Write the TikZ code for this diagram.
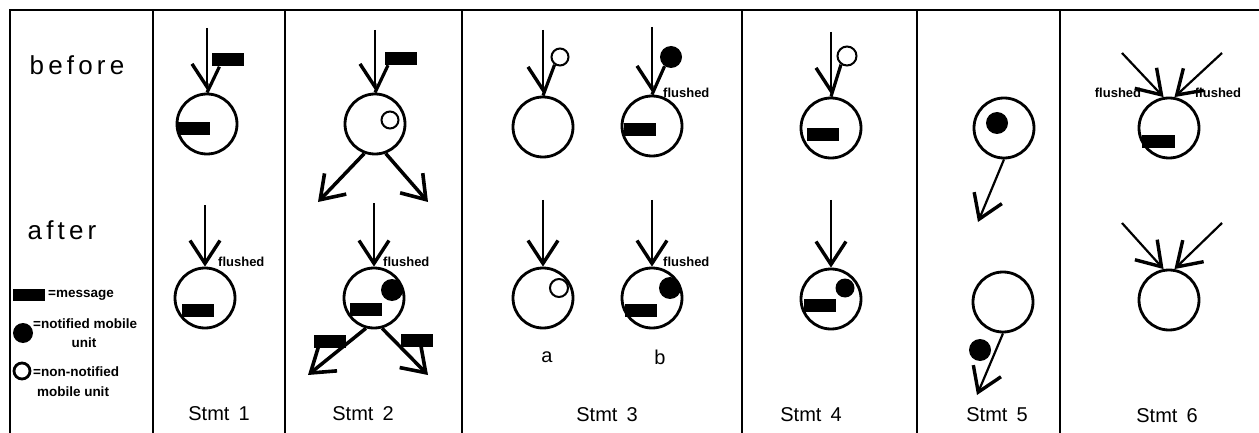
\documentclass[tikz,border=0pt]{standalone}
\usepackage{fontspec}
\setmainfont{Liberation Sans}
\usetikzlibrary{arrows.meta,calc}

\begin{document}
\begin{tikzpicture}[x=1pt,y=-1pt,
unit/.style={circle,draw,line width=2.8pt,minimum size=60pt,inner sep=0pt},
msg/.style={rectangle,fill=black,minimum width=32pt,minimum height=13pt,inner sep=0pt},
note/.style={circle,fill=black,minimum size=22pt,inner sep=0pt},
plain/.style={circle,draw,line width=2pt,minimum size=17pt,inner sep=0pt},
flow/.style={line width=2.2pt,-{Straight Barb[length=23pt,width=30pt,line width=3.4pt]}},
carry/.style={line width=2.2pt,-{Straight Barb[right,length=23pt,width=30pt,line width=3.4pt]}},
outflow/.style={line width=3.5pt,-{Straight Barb[length=22pt,width=30pt,line width=3.6pt]}},
barb/.style={line width=3.2pt},
frame/.style={line width=2.5pt},
tag/.style={font=\bfseries\fontsize{13}{13}\selectfont,inner sep=0pt},
key/.style={font=\bfseries\fontsize{13.5}{14}\selectfont,inner sep=0pt},
big/.style={font=\fontsize{26}{26}\selectfont\addfontfeature{LetterSpace=16}},
stmt/.style={font=\fontsize{20}{20}\selectfont}
]
\useasboundingbox (0,0) rectangle (1259,433);
\draw[frame] (10,433) -- (10,10) -- (1259,10);
\foreach \x in {153,285,462,742,917,1060}
  \draw[frame] (\x,10) -- (\x,433);

\node[big] (before) at (77,65) {before};
\node[big] (after) at (62,230) {after};
\node[msg,minimum height=12pt] (lm) at (29,295) {};
\node[key,anchor=west] (lmt) at (48,295) {=message};
\node[note,minimum size=20pt] (ln) at (23,333) {};
\node[key,anchor=west] (lnt) at (33,324) {=notified mobile};
\node[key] (lnu) at (84,343) {unit};
\node[plain,line width=2.8pt,minimum size=16pt] (lp) at (22,371) {};
\node[key,anchor=west] (lpt) at (33,372) {=non-notified};
\node[key] (lpu) at (73,392) {mobile unit};

\coordinate (s1b) at (207,28);
\node[unit] (u1b) at (207,124) {};
\node[msg] (m1b) at (194,129) {};
\node[msg] (m1t) at (227.5,60) {};
\draw[carry] (s1b) -- (u1b.north);
\draw[barb] (u1b.north) -- ($(m1t.south west)!.25!(m1t.south east)$);
\coordinate (s1a) at (205,205);
\node[unit] (u1a) at (205,298) {};
\node[msg] (m1a) at (198,310) {};
\draw[flow] (s1a) -- (u1a.north);
\node[tag,anchor=west] (f1a) at (218,262) {flushed};
\node[stmt] (st1) at (219,414) {Stmt\hspace{9pt}1};

\coordinate (s2b) at (375,30);
\node[unit] (u2b) at (375,124) {};
\node[plain] (k2b) at (390,120) {};
\node[msg] (m2t) at (401,58.5) {};
\draw[carry] (s2b) -- (u2b.north);
\draw[barb] (u2b.north) -- ($(m2t.south west)!.1!(m2t.south east)$);
\coordinate (l2b) at (318,202);
\coordinate (r2b) at (428,202);
\draw[outflow] (u2b.-110) -- (l2b);
\draw[outflow] (u2b.-70) -- (r2b);
\coordinate (s2a) at (374,203);
\node[unit] (u2a) at (374,298) {};
\node[note] (n2a) at (392,290) {};
\node[msg] (m2a) at (366,309.5) {};
\draw[flow] (s2a) -- (u2a.north);
\node[tag,anchor=west] (f2a) at (383,262) {flushed};
\coordinate (l2a) at (308,375);
\coordinate (r2a) at (428,375);
\draw[outflow] (u2a.-105) -- (l2a);
\draw[outflow] (u2a.-75) -- (r2a);
\node[msg] (m2l) at (330,341) {};
\node[msg] (m2r) at (417,340) {};
\node[stmt] (st2) at (363,414) {Stmt\hspace{9pt}2};

\coordinate (s3ab) at (543,30);
\node[unit] (u3ab) at (543,127) {};
\node[plain] (k3ab) at (560,57) {};
\draw[carry] (s3ab) -- (u3ab.north);
\draw[barb] (u3ab.north) -- (k3ab.235);
\coordinate (s3bb) at (652,27);
\node[unit] (u3bb) at (652,126) {};
\node[note] (n3bb) at (671,57) {};
\node[msg] (m3bb) at (640,130) {};
\draw[carry] (s3bb) -- (u3bb.north);
\draw[barb] (u3bb.north) -- (n3bb.235);
\node[tag,anchor=west] (f3bb) at (663,93) {flushed};
\coordinate (s3aa) at (543,200);
\node[unit] (u3aa) at (543,298) {};
\node[plain,minimum size=18pt] (k3aa) at (559,288) {};
\draw[flow] (s3aa) -- (u3aa.north);
\coordinate (s3ba) at (652,200);
\node[unit] (u3ba) at (652,298) {};
\node[note] (n3ba) at (670,288) {};
\node[msg] (m3ba) at (641,310) {};
\draw[flow] (s3ba) -- (u3ba.north);
\node[tag,anchor=west] (f3ba) at (663,262) {flushed};
\node[stmt] (la) at (547,357) {a};
\node[stmt] (lb) at (660,357) {b};
\node[stmt] (st3) at (607,415) {Stmt\hspace{9pt}3};

\coordinate (s4b) at (831,32);
\node[unit] (u4b) at (831,128) {};
\node[plain,minimum size=19pt] (k4b) at (847,56) {};
\node[msg] (m4b) at (823,135) {};
\draw[carry] (s4b) -- (u4b.north);
\draw[barb] (u4b.north) -- (k4b.235);
\coordinate (s4a) at (831,200);
\node[unit] (u4a) at (831,299) {};
\node[note,minimum size=19pt] (n4a) at (845,288) {};
\node[msg] (m4a) at (820,305) {};
\draw[flow] (s4a) -- (u4a.north);
\node[stmt] (st4) at (811,415) {Stmt\hspace{9pt}4};

\node[unit] (u5b) at (1004,128) {};
\node[note] (n5b) at (997,123) {};
\coordinate (t5b) at (978,222);
\draw[flow] (u5b.south) -- (t5b);
\node[unit] (u5a) at (1003,302) {};
\node[note] (n5a) at (980,350) {};
\coordinate (t5a) at (977,395);
\draw[flow] (u5a.south) -- (t5a);
\node[stmt] (st5) at (997,415) {Stmt\hspace{9pt}5};

\coordinate (s6lb) at (1122,53);
\coordinate (s6rb) at (1222,53);
\node[unit] (u6b) at (1169,128) {};
\node[msg,minimum width=33pt] (m6b) at (1158.5,141.5) {};
\draw[flow] (s6lb) -- (u6b.100);
\draw[flow] (s6rb) -- (u6b.80);
\node[tag] (f6l) at (1118,93) {flushed};
\node[tag] (f6r) at (1218,93) {flushed};
\coordinate (s6la) at (1122,223);
\coordinate (s6ra) at (1222,223);
\node[unit] (u6a) at (1169,300) {};
\draw[flow] (s6la) -- (u6a.100);
\draw[flow] (s6ra) -- (u6a.80);
\node[stmt] (st6) at (1167,416) {Stmt\hspace{9pt}6};
\end{tikzpicture}
\end{document}
